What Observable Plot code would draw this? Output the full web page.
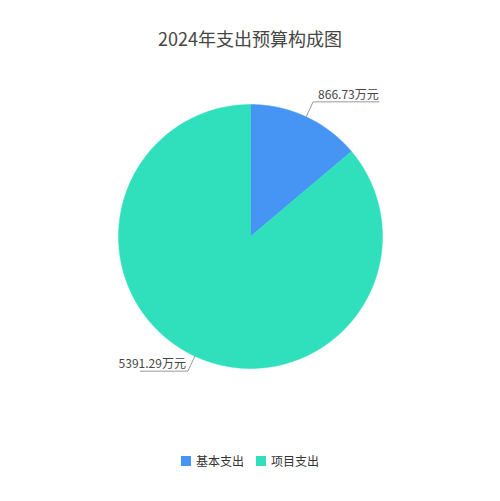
<!DOCTYPE html>
<html><head><meta charset="utf-8">
<script src="https://cdn.jsdelivr.net/npm/d3@7"></script>
<script src="https://cdn.jsdelivr.net/npm/@observablehq/plot@0.6"></script>
<style>
body{margin:0;background:#fff;font-family:"Noto Sans CJK SC","Noto Sans",sans-serif;}
#wrap{position:relative;width:500px;height:501px;overflow:hidden;}
#title{position:absolute;top:26px;left:0;width:500px;text-align:center;font-size:18px;line-height:24px;color:#464646;}
#chart{position:absolute;top:60px;left:0;}
#legend{position:absolute;top:452px;left:0;width:500px;display:flex;justify-content:center;font-size:12px;line-height:18px;color:#333;}
.li{display:flex;align-items:center;margin:0 6px;}
.sw{width:10px;height:10px;margin-right:5px;}
</style></head>
<body><div id="wrap"><div id="title"></div><div id="chart"></div><div id="legend"></div></div>
<script>
const title = "2024年支出预算构成图";
const categories = ["基本支出", "项目支出"];
const values = [866.73, 5391.29];
const unit = "万元";
const colors = ["#4695f5", "#30dfbc"];

document.getElementById("title").textContent = title;

const arcs = d3.pie().sort(null).value(d => d)(values);
const slicePts = [];
arcs.forEach((a, i) => {
  slicePts.push({k: categories[i], x: 0, y: 0});
  const n = 120;
  for (let j = 0; j <= n; j++) {
    const t = a.startAngle + (a.endAngle - a.startAngle) * j / n;
    slicePts.push({k: categories[i], x: Math.sin(t), y: Math.cos(t)});
  }
  slicePts.push({k: categories[i], x: 0, y: 0});
});

const linePts = [];
const labels = [];
arcs.forEach((a, i) => {
  const m = (a.startAngle + a.endAngle) / 2;
  const sx = Math.sin(m), sy = Math.cos(m);
  const ex = sx * 1.125, ey = sy * 1.125;
  const right = sx >= 0;
  const len = right ? 0.5 : 0.36;
  const hx = ex + (right ? len : -len);
  linePts.push({k: categories[i], x: sx, y: sy}, {k: categories[i], x: ex, y: ey}, {k: categories[i], x: hx, y: ey});
  labels.push({x: ex, y: ey, right, text: values[i].toFixed(2) + unit});
});

const chart = Plot.plot({
  width: 500, height: 360,
  margin: 0,
  x: {domain: [-1, 1], range: [118, 382], axis: null},
  y: {domain: [-1, 1], range: [308, 44], axis: null},
  color: {domain: categories, range: colors},
  style: {fontFamily: '"Noto Sans CJK SC","Noto Sans",sans-serif'},
  marks: [
    Plot.line(slicePts, {x: "x", y: "y", z: "k", fill: "k", stroke: "k", strokeWidth: 0.5, curve: "linear"}),
    Plot.line(linePts, {x: "x", y: "y", z: "k", stroke: "#999", strokeWidth: 1}),
    Plot.text(labels.filter(d => d.right), {x: "x", y: "y", text: "text", textAnchor: "start", dx: 5, dy: -7, fontSize: 12, fill: "#464646"}),
    Plot.text(labels.filter(d => !d.right), {x: "x", y: "y", text: "text", textAnchor: "end", dx: -2, dy: -7, fontSize: 12, fill: "#464646"})
  ]
});
document.getElementById("chart").appendChild(chart);

const lg = document.getElementById("legend");
categories.forEach((c, i) => {
  const d = document.createElement("div"); d.className = "li";
  const s = document.createElement("span"); s.className = "sw"; s.style.background = colors[i];
  const t = document.createElement("span"); t.textContent = c;
  d.appendChild(s); d.appendChild(t); lg.appendChild(d);
});
</script></body></html>
